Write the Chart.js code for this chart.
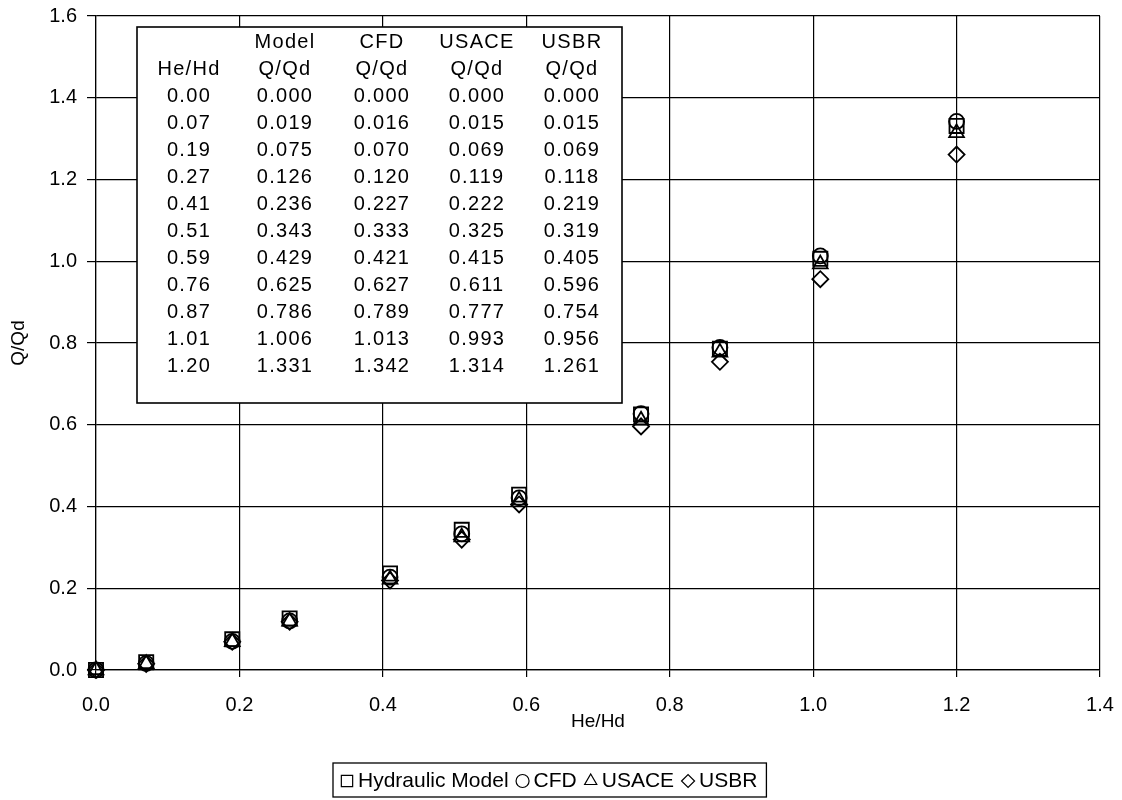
<!DOCTYPE html>
<html>
<head>
<meta charset="utf-8">
<script src="https://cdn.jsdelivr.net/npm/chart.js@4"></script>
<style>
  body { margin: 0; background: #fff; }
  #wrap { width: 1122px; height: 800px; }
</style>
</head>
<body>
<div id="wrap"><canvas id="chart1" width="1122" height="800"></canvas></div>
<script>
var heHd = [0.00, 0.07, 0.19, 0.27, 0.41, 0.51, 0.59, 0.76, 0.87, 1.01, 1.20];
var modelQ = [0.000, 0.019, 0.075, 0.126, 0.236, 0.343, 0.429, 0.625, 0.786, 1.006, 1.331];
var cfdQ = [0.000, 0.016, 0.070, 0.120, 0.227, 0.333, 0.421, 0.627, 0.789, 1.013, 1.342];
var usaceQ = [0.000, 0.015, 0.069, 0.119, 0.222, 0.325, 0.415, 0.611, 0.777, 0.993, 1.314];
var usbrQ = [0.000, 0.015, 0.069, 0.118, 0.219, 0.319, 0.405, 0.596, 0.754, 0.956, 1.261];
var seriesNames = ['Hydraulic Model', 'CFD', 'USACE', 'USBR'];
var tableHead1 = ['', 'Model', 'CFD', 'USACE', 'USBR'];
var tableHead2 = ['He/Hd', 'Q/Qd', 'Q/Qd', 'Q/Qd', 'Q/Qd'];

var FONT = "'Liberation Sans', Arial, sans-serif";

function pts(ys) {
    return heHd.map(function (x, i) { return {x: x, y: ys[i]}; });
}

function makeSet(label, ys, style, r) {
    return {
        label: label,
        data: pts(ys),
        pointStyle: style,
        pointRadius: r,
        pointHoverRadius: r,
        borderColor: '#000',
        backgroundColor: 'rgba(0,0,0,0)',
        pointBorderWidth: 1.8,
        showLine: false,
        clip: false
    };
}

// data table drawn over the grid, under the markers
var tablePlugin = {
    id: 'dataTable',
    beforeDatasetsDraw: function (chart) {
        var ctx = chart.ctx;
        ctx.save();
        ctx.fillStyle = '#fff';
        ctx.fillRect(137, 27, 485, 376);
        ctx.strokeStyle = '#000';
        ctx.lineWidth = 1.6;
        ctx.strokeRect(137, 27, 485, 376);
        ctx.fillStyle = '#000';
        ctx.font = '20px ' + FONT;
        ctx.letterSpacing = '1.3px';
        ctx.textAlign = 'center';
        ctx.textBaseline = 'middle';
        var cols = [189, 285, 382, 477, 572];
        var cells = [tableHead1, tableHead2];
        heHd.forEach(function (h, i) {
            cells.push([h.toFixed(2), modelQ[i].toFixed(3), cfdQ[i].toFixed(3),
                usaceQ[i].toFixed(3), usbrQ[i].toFixed(3)]);
        });
        cells.forEach(function (row, r) {
            row.forEach(function (t, c) {
                ctx.fillText(t, cols[c], 42 + r * 27);
            });
        });
        ctx.restore();
    }
};

// legend at the bottom, boxed, symbols from the datasets
var legendPlugin = {
    id: 'boxLegend',
    afterDraw: function (chart) {
        var ctx = chart.ctx;
        ctx.save();
        ctx.font = '21px ' + FONT;
        ctx.textBaseline = 'middle';
        var x = 341, y = 781;
        chart.data.datasets.forEach(function (ds) {
            ctx.strokeStyle = '#000';
            ctx.fillStyle = 'rgba(0,0,0,0)';
            ctx.lineWidth = 1.2;
            var r = ds.pointStyle === 'rect' ? 8 : (ds.pointStyle === 'triangle' ? 7 : 6.5);
            Chart.helpers.drawPoint(ctx, {pointStyle: ds.pointStyle, radius: r, borderWidth: 1.2}, x + 6, y);
            x += 17;
            ctx.fillStyle = '#000';
            ctx.fillText(ds.label, x, y);
            x += ctx.measureText(ds.label).width + 8;
        });
        ctx.lineWidth = 1.3;
        ctx.strokeRect(333, 763, x - 333 + 1, 34);
        ctx.restore();
    }
};

var ctx = document.getElementById('chart1');
var chart = new Chart(ctx, {
    type: 'scatter',
    data: {
        datasets: [
            makeSet(seriesNames[0], modelQ, 'rect', 10),
            makeSet(seriesNames[1], cfdQ, 'circle', 7.5),
            makeSet(seriesNames[2], usaceQ, 'triangle', 8.5),
            makeSet(seriesNames[3], usbrQ, 'rectRot', 8)
        ]
    },
    options: {
        responsive: false,
        animation: false,
        layout: {padding: {left: 0, right: 22, top: 16, bottom: 67}},
        plugins: {
            legend: {display: false},
            tooltip: {enabled: false}
        },
        scales: {
            x: {
                type: 'linear',
                min: 0, max: 1.4,
                afterFit: function (s) { s.height = 63; s.paddingLeft = 0; s.paddingRight = 0; },
                ticks: {
                    stepSize: 0.2, color: '#000', padding: 16,
                    font: {family: FONT, size: 20},
                    callback: function (v) { return v.toFixed(1); }
                },
                grid: {color: '#000', lineWidth: 1.2, tickLength: 7, tickColor: '#000'},
                border: {color: '#000', width: 1.2},
                title: {display: true, text: 'He/Hd', color: '#000', padding: 0,
                    font: {family: FONT, size: 19}}
            },
            y: {
                min: 0, max: 1.6,
                afterFit: function (s) { s.width = 96; s.paddingTop = 0; },
                ticks: {
                    stepSize: 0.2, color: '#000', padding: 10,
                    font: {family: FONT, size: 20},
                    callback: function (v) { return v.toFixed(1); }
                },
                grid: {color: '#000', lineWidth: 1.2, tickLength: 9, tickColor: '#000'},
                border: {color: '#000', width: 1.2},
                title: {display: true, text: 'Q/Qd', color: '#000', padding: {top: 7, bottom: 0},
                    font: {family: FONT, size: 19}}
            }
        }
    },
    plugins: [tablePlugin, legendPlugin]
});
</script>
</body>
</html>
